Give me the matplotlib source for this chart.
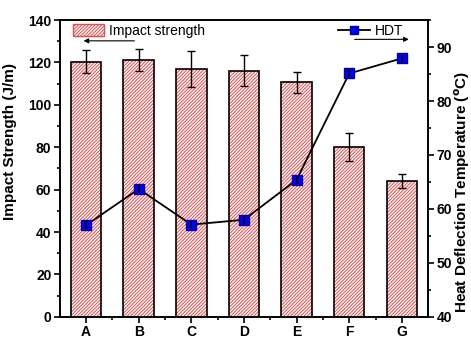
import numpy as np
import matplotlib
matplotlib.use("Agg")
import matplotlib.pyplot as plt
from matplotlib.ticker import MultipleLocator, FixedLocator
from matplotlib.patches import Patch
from matplotlib.lines import Line2D

plt.rcParams['font.family'] = ['Liberation Sans', 'DejaVu Sans']
plt.rcParams['hatch.linewidth'] = 0.7

samples = ["A", "B", "C", "D", "E", "F", "G"]
impact = [120.4, 121.1, 116.9, 116.0, 110.6, 80.1, 64.2]
impact_err = [5.6, 5.2, 8.7, 7.3, 5.0, 6.4, 3.3]
hdt = [57.0, 63.7, 57.1, 58.0, 65.4, 85.1, 87.9]
hdt_err = [0.7, 0.7, 0.7, 0.7, 0.7, 0.6, 0.7]

x = np.arange(len(samples))

fig = plt.figure(figsize=(4.71, 3.40), dpi=100)
ax = fig.add_axes([0.127, 0.068, 0.782, 0.873])

# hatched fill, then black outline on top
ax.bar(x, impact, width=0.58, color="white", edgecolor="#f04848",
       hatch="//////////", linewidth=0, zorder=2)
ax.bar(x, impact, width=0.58, fill=False, edgecolor="black",
       linewidth=1.2, zorder=3)
ax.errorbar(x, impact, yerr=impact_err, fmt="none", ecolor="black",
            elinewidth=1, capsize=3, capthick=1, zorder=4)

ax.set_xlim(-0.5, 6.5)
ax.set_ylim(0, 140)
ax.set_xticks(x)
ax.set_xticklabels(samples)
ax.xaxis.set_minor_locator(FixedLocator(x[:-1] + 0.5))
ax.yaxis.set_major_locator(MultipleLocator(20))
ax.yaxis.set_minor_locator(MultipleLocator(10))
ax.set_ylabel("Impact Strength (J/m)", fontsize=11, fontweight="bold")
ax.yaxis.set_label_coords(-0.115, 0.59)

ax2 = ax.twinx()
ax2.errorbar(x, hdt, yerr=hdt_err, color="black", lw=1.3, marker="s",
             markersize=7, markerfacecolor="#0000ff", markeredgecolor="#0000aa",
             ecolor="black", elinewidth=1.5, capsize=0, barsabove=True, zorder=5)
ax2.set_ylim(40, 95)
ax2.yaxis.set_major_locator(MultipleLocator(10))
ax2.yaxis.set_minor_locator(MultipleLocator(5))
ax2.set_ylabel("Heat Deflection Temperature ($\\mathbf{^{o}}$C)", fontsize=11,
               fontweight="bold")
ax2.yaxis.set_label_coords(1.066, 0.42)

for a in (ax, ax2):
    a.tick_params(which="both", direction="out", width=1.2)
    a.tick_params(which="major", length=4, labelsize=10, pad=2)
    a.tick_params(which="minor", length=2.5)
    for lab in a.get_xticklabels() + a.get_yticklabels():
        lab.set_fontweight("bold")
    for s in a.spines.values():
        s.set_linewidth(1.2)

# legends
h1 = Patch(facecolor="white", edgecolor="#f04848", hatch="//////////")
ax.legend([h1], ["Impact strength"], loc="upper left", frameon=False,
          fontsize=10, bbox_to_anchor=(0.01, 1.02), handlelength=2.2,
          handleheight=1.0, handletextpad=0.4, borderaxespad=0.3)
h2 = Line2D([], [], color="black", lw=1.3, marker="s", markersize=6,
            markerfacecolor="#0000ff", markeredgecolor="#0000aa")
ax2.legend([h2], ["HDT"], loc="upper right", frameon=False, fontsize=10,
           bbox_to_anchor=(0.96, 1.02), handlelength=2.3, handletextpad=0.4,
           borderaxespad=0.3)

ax.annotate("", xy=(0.057, 0.93), xytext=(0.21, 0.93), xycoords="axes fraction",
            arrowprops=dict(arrowstyle="-|>", color="black", lw=0.8,
                            mutation_scale=7))
ax.annotate("", xy=(0.955, 0.935), xytext=(0.793, 0.935), xycoords="axes fraction",
            arrowprops=dict(arrowstyle="-|>", color="black", lw=0.8,
                            mutation_scale=7))

fig.savefig("out.png", dpi=100)
